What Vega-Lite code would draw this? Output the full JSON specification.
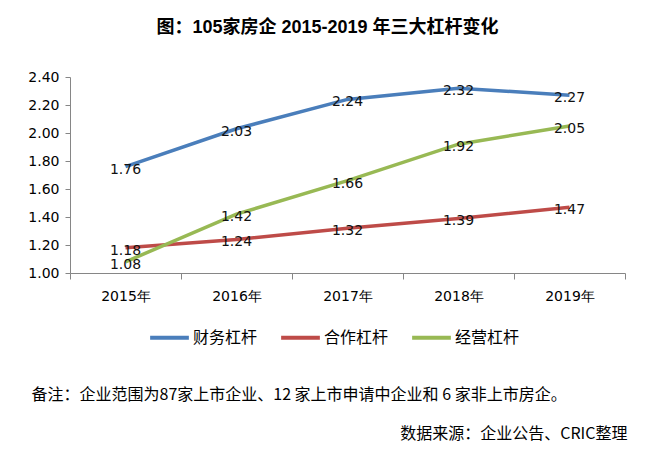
{
  "$schema": "https://vega.github.io/schema/vega-lite/v6.json",
  "width": 555,
  "height": 196,
  "autosize": {"type": "none"},
  "padding": {"left": 70, "top": 77, "right": 25, "bottom": 185},
  "background": "white",
  "title": {
    "text": "图：105家房企 2015-2019 年三大杠杆变化",
    "fontSize": 18,
    "fontWeight": "bold",
    "font": "Liberation Sans, Noto Sans CJK SC",
    "color": "#000000",
    "anchor": "middle",
    "dx": -20,
    "offset": 33
  },
  "config": {"view": {"stroke": null}},
  "data": {
    "values": [
      {"year": "2015年", "series": "财务杠杆", "value": 1.76},
      {"year": "2016年", "series": "财务杠杆", "value": 2.03},
      {"year": "2017年", "series": "财务杠杆", "value": 2.24},
      {"year": "2018年", "series": "财务杠杆", "value": 2.32},
      {"year": "2019年", "series": "财务杠杆", "value": 2.27},
      {"year": "2015年", "series": "合作杠杆", "value": 1.18},
      {"year": "2016年", "series": "合作杠杆", "value": 1.24},
      {"year": "2017年", "series": "合作杠杆", "value": 1.32},
      {"year": "2018年", "series": "合作杠杆", "value": 1.39},
      {"year": "2019年", "series": "合作杠杆", "value": 1.47},
      {"year": "2015年", "series": "经营杠杆", "value": 1.08},
      {"year": "2016年", "series": "经营杠杆", "value": 1.42},
      {"year": "2017年", "series": "经营杠杆", "value": 1.66},
      {"year": "2018年", "series": "经营杠杆", "value": 1.92},
      {"year": "2019年", "series": "经营杠杆", "value": 2.05}
    ]
  },
  "encoding": {
    "x": {
      "field": "year",
      "type": "ordinal",
      "sort": null,
      "scale": {"type": "band", "paddingInner": 0, "paddingOuter": 0},
      "axis": {
        "title": "备注：企业范围为87家上市企业、12 家上市申请中企业和 6 家非上市房企。",
        "titleX": -39,
        "titleY": 121,
        "titleAlign": "left",
        "titleBaseline": "middle",
        "titleFont": "Noto Sans CJK SC",
        "titleFontSize": 16,
        "titleFontWeight": "normal",
        "titleColor": "#000000",
        "labelFont": "DejaVu Sans",
        "labelFontSize": 14,
        "labelColor": "#000000",
        "labelAngle": 0,
        "labelPadding": 10,
        "tickBand": "extent",
        "tickSize": 6,
        "domainColor": "#868686",
        "tickColor": "#868686",
        "grid": false
      }
    },
    "y": {
      "field": "value",
      "type": "quantitative",
      "scale": {"domain": [1, 2.4], "nice": false, "zero": false},
      "axis": {
        "values": [1, 1.2, 1.4, 1.6, 1.8, 2, 2.2, 2.4],
        "format": ".2f",
        "grid": false,
        "tickSize": 5,
        "labelPadding": 6,
        "labelFont": "DejaVu Sans",
        "labelFontSize": 14,
        "labelColor": "#000000",
        "domainColor": "#868686",
        "tickColor": "#868686",
        "title": "数据来源：企业公告、CRIC整理",
        "titleAngle": 0,
        "titleX": 557,
        "titleY": 356,
        "titleAlign": "right",
        "titleBaseline": "middle",
        "titleFont": "Noto Sans CJK SC",
        "titleFontSize": 16,
        "titleFontWeight": "normal",
        "titleColor": "#000000"
      }
    },
    "color": {
      "field": "series",
      "type": "nominal",
      "scale": {
        "domain": ["财务杠杆", "合作杠杆", "经营杠杆"],
        "range": ["#4A7EBB", "#BE4B48", "#98B954"]
      },
      "legend": {
        "orient": "none",
        "legendX": 78,
        "legendY": 239,
        "direction": "horizontal",
        "columns": 3,
        "title": null,
        "symbolType": "stroke",
        "symbolSize": 1500,
        "symbolStrokeWidth": 4,
        "labelFont": "Noto Sans CJK SC",
        "labelFontSize": 16,
        "labelColor": "#000000",
        "labelOffset": 2,
        "columnPadding": 15
      }
    }
  },
  "layer": [
    {"mark": {"type": "line", "strokeWidth": 3.5}},
    {
      "mark": {"type": "text", "dy": 3, "fontSize": 14, "font": "DejaVu Sans"},
      "encoding": {
        "text": {"field": "value", "type": "quantitative", "format": ".2f"},
        "color": {"value": "#111111"}
      }
    }
  ]
}
